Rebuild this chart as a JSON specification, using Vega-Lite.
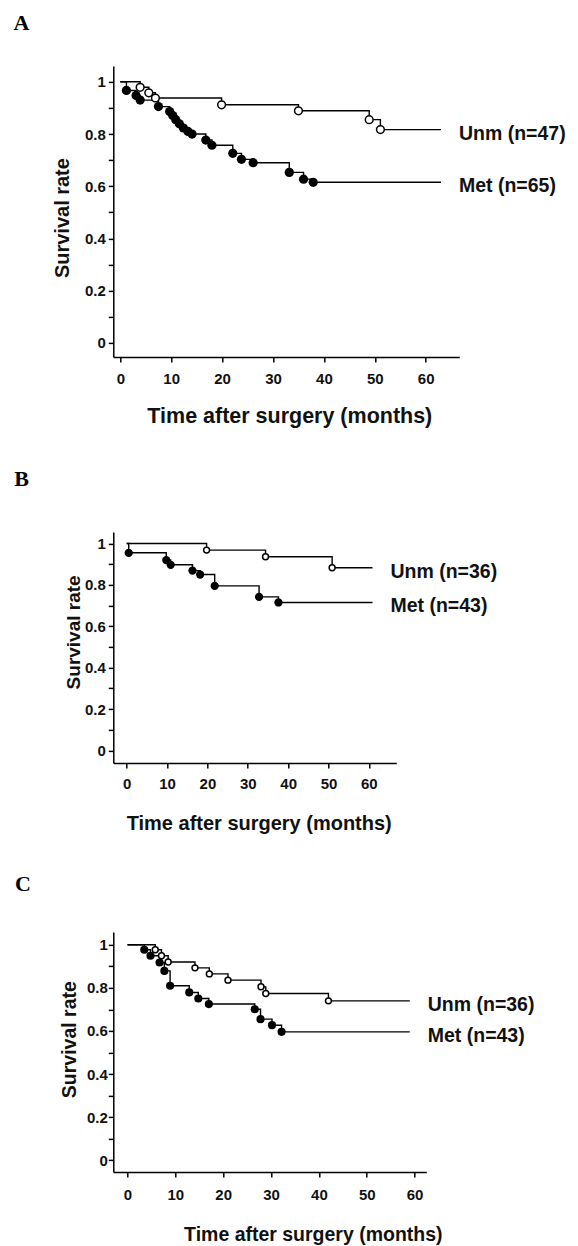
{
  "$schema": "https://vega.github.io/schema/vega-lite/v6.json",
  "background": "white",
  "padding": {"left": 13.3, "top": 10.9, "right": 0, "bottom": 0},
  "spacing": 39,
  "config": {
    "view": {"stroke": null},
    "font": "Liberation Sans",
    "axis": {
      "grid": false,
      "domainColor": "#000",
      "domainWidth": 1.5,
      "tickColor": "#000",
      "tickWidth": 1.5,
      "tickSize": 5,
      "labelFont": "Liberation Sans",
      "labelFontWeight": "bold",
      "labelFontSize": 15,
      "labelColor": "#111",
      "titleFont": "Liberation Sans",
      "titleFontWeight": "bold",
      "titleColor": "#111",
      "labelOverlap": false,
      "labelFlush": false
    }
  },
  "datasets": {
    "A": [
      {"g": "Unm", "t": 0, "s": 1, "ev": false},
      {"g": "Unm", "t": 3.9, "s": 0.979, "ev": true},
      {"g": "Unm", "t": 5.6, "s": 0.958, "ev": true},
      {"g": "Unm", "t": 6.9, "s": 0.938, "ev": true},
      {"g": "Unm", "t": 19.9, "s": 0.912, "ev": true},
      {"g": "Unm", "t": 35.0, "s": 0.889, "ev": true},
      {"g": "Unm", "t": 48.9, "s": 0.855, "ev": true},
      {"g": "Unm", "t": 51.1, "s": 0.817, "ev": true},
      {"g": "Unm", "t": 63, "s": 0.817, "ev": false},
      {"g": "Met", "t": 0, "s": 1, "ev": false},
      {"g": "Met", "t": 1.2, "s": 0.967, "ev": true},
      {"g": "Met", "t": 3.1, "s": 0.948, "ev": true},
      {"g": "Met", "t": 3.9, "s": 0.93, "ev": true},
      {"g": "Met", "t": 7.5, "s": 0.905, "ev": true},
      {"g": "Met", "t": 9.7, "s": 0.886, "ev": true},
      {"g": "Met", "t": 10.3, "s": 0.871, "ev": true},
      {"g": "Met", "t": 10.9, "s": 0.855, "ev": true},
      {"g": "Met", "t": 11.6, "s": 0.839, "ev": true},
      {"g": "Met", "t": 12.4, "s": 0.823, "ev": true},
      {"g": "Met", "t": 13.3, "s": 0.81, "ev": true},
      {"g": "Met", "t": 14.1, "s": 0.8, "ev": true},
      {"g": "Met", "t": 16.8, "s": 0.777, "ev": true},
      {"g": "Met", "t": 18.0, "s": 0.757, "ev": true},
      {"g": "Met", "t": 22.1, "s": 0.726, "ev": true},
      {"g": "Met", "t": 23.8, "s": 0.703, "ev": true},
      {"g": "Met", "t": 26.1, "s": 0.69, "ev": true},
      {"g": "Met", "t": 33.2, "s": 0.653, "ev": true},
      {"g": "Met", "t": 36.0, "s": 0.627, "ev": true},
      {"g": "Met", "t": 37.9, "s": 0.615, "ev": true},
      {"g": "Met", "t": 63, "s": 0.615, "ev": false}
    ],
    "B": [
      {"g": "Unm", "t": 0, "s": 1, "ev": false},
      {"g": "Unm", "t": 19.8, "s": 0.968, "ev": true},
      {"g": "Unm", "t": 34.4, "s": 0.936, "ev": true},
      {"g": "Unm", "t": 50.9, "s": 0.883, "ev": true},
      {"g": "Unm", "t": 60.9, "s": 0.883, "ev": false},
      {"g": "Met", "t": 0, "s": 1, "ev": false},
      {"g": "Met", "t": 0.5, "s": 0.955, "ev": true},
      {"g": "Met", "t": 9.8, "s": 0.92, "ev": true},
      {"g": "Met", "t": 10.9, "s": 0.897, "ev": true},
      {"g": "Met", "t": 16.3, "s": 0.869, "ev": true},
      {"g": "Met", "t": 18.2, "s": 0.85, "ev": true},
      {"g": "Met", "t": 21.8, "s": 0.795, "ev": true},
      {"g": "Met", "t": 32.8, "s": 0.742, "ev": true},
      {"g": "Met", "t": 37.6, "s": 0.715, "ev": true},
      {"g": "Met", "t": 60.9, "s": 0.715, "ev": false}
    ],
    "C": [
      {"g": "Unm", "t": 0, "s": 1, "ev": false},
      {"g": "Unm", "t": 5.8, "s": 0.977, "ev": true},
      {"g": "Unm", "t": 7.1, "s": 0.949, "ev": true},
      {"g": "Unm", "t": 8.5, "s": 0.92, "ev": true},
      {"g": "Unm", "t": 14.1, "s": 0.893, "ev": true},
      {"g": "Unm", "t": 17.1, "s": 0.865, "ev": true},
      {"g": "Unm", "t": 21.0, "s": 0.836, "ev": true},
      {"g": "Unm", "t": 27.9, "s": 0.805, "ev": true},
      {"g": "Unm", "t": 28.9, "s": 0.774, "ev": true},
      {"g": "Unm", "t": 42.0, "s": 0.74, "ev": true},
      {"g": "Unm", "t": 59, "s": 0.74, "ev": false},
      {"g": "Met", "t": 0, "s": 1, "ev": false},
      {"g": "Met", "t": 3.5, "s": 0.977, "ev": true},
      {"g": "Met", "t": 4.8, "s": 0.949, "ev": true},
      {"g": "Met", "t": 6.7, "s": 0.918, "ev": true},
      {"g": "Met", "t": 7.7, "s": 0.879, "ev": true},
      {"g": "Met", "t": 8.9, "s": 0.81, "ev": true},
      {"g": "Met", "t": 12.9, "s": 0.779, "ev": true},
      {"g": "Met", "t": 14.8, "s": 0.751, "ev": true},
      {"g": "Met", "t": 17.0, "s": 0.725, "ev": true},
      {"g": "Met", "t": 26.6, "s": 0.701, "ev": true},
      {"g": "Met", "t": 27.8, "s": 0.655, "ev": true},
      {"g": "Met", "t": 30.2, "s": 0.627, "ev": true},
      {"g": "Met", "t": 32.2, "s": 0.596, "ev": true},
      {"g": "Met", "t": 59, "s": 0.596, "ev": false}
    ]
  },
  "vconcat": [
    {
      "title": {"text": "A", "anchor": "start", "frame": "group", "dx": -99.7, "offset": 14.2, "baseline": "alphabetic", "font": "Liberation Serif", "fontSize": 22, "fontWeight": "bold", "color": "#000"},
      "width": 346,
      "height": 291,
      "encoding": {
        "x": {
          "field": "t", "type": "quantitative",
          "scale": {"domain": [-1.375, 66.6], "nice": false, "zero": false},
          "axis": {"values": [0, 10, 20, 30, 40, 50, 60], "labelBaseline": "middle", "labelPadding": 17, "title": "Time after surgery (months)", "titleFontSize": 21.5, "titleX": 176, "titleY": 66, "titleBaseline": "alphabetic", "titleAlign": "center"}
        },
        "y": {
          "field": "s", "type": "quantitative",
          "scale": {"domain": [-0.054, 1.061], "nice": false, "zero": false},
          "axis": {"values": [0, 0.1, 0.2, 0.3, 0.4, 0.5, 0.6, 0.7, 0.8, 0.9, 1], "labelExpr": "round(datum.value*10) % 2 == 0 ? format(datum.value, '~g') : ''", "labelPadding": 3, "title": "Survival rate", "titleFontSize": 20, "titleAngle": -90, "titleX": -44.8, "titleY": 151.7, "titleBaseline": "alphabetic", "titleAlign": "center"}
        }
      },
      "layer": [
        {"data": {"name": "A"}, "mark": {"type": "line", "interpolate": "step-after", "color": "#000", "strokeWidth": 1.4}, "encoding": {"detail": {"field": "g"}}},
        {"data": {"name": "A"}, "transform": [{"filter": "datum.g === 'Met' && datum.ev"}], "mark": {"type": "point", "shape": "circle", "filled": true, "color": "#000", "opacity": 1, "size": 85}},
        {"data": {"name": "A"}, "transform": [{"filter": "datum.g === 'Unm' && datum.ev"}], "mark": {"type": "point", "shape": "circle", "filled": true, "fill": "#fff", "stroke": "#000", "strokeWidth": 1.5, "opacity": 1, "size": 60}},
        {"data": {"values": [{"label": "Unm (n=47)", "t": 63, "s": 0.817}, {"label": "Met (n=65)", "t": 63, "s": 0.615}]}, "mark": {"type": "text", "align": "left", "baseline": "alphabetic", "dx": 18, "dy": 10, "font": "Liberation Sans", "fontWeight": "bold", "fontSize": 19.5, "color": "#111"}, "encoding": {"text": {"field": "label"}}}
      ]
    },
    {
      "title": {"text": "B", "anchor": "start", "frame": "group", "dx": -99, "offset": 24.2, "baseline": "alphabetic", "font": "Liberation Serif", "fontSize": 22, "fontWeight": "bold", "color": "#000"},
      "width": 283,
      "height": 231,
      "encoding": {
        "x": {
          "field": "t", "type": "quantitative",
          "scale": {"domain": [-3.32, 66.8], "nice": false, "zero": false},
          "axis": {"values": [0, 10, 20, 30, 40, 50, 60], "labelBaseline": "middle", "labelPadding": 15.8, "title": "Time after surgery (months)", "titleFontSize": 20, "titleX": 145.4, "titleY": 66.6, "titleBaseline": "alphabetic", "titleAlign": "center"}
        },
        "y": {
          "field": "s", "type": "quantitative",
          "scale": {"domain": [-0.06, 1.056], "nice": false, "zero": false},
          "axis": {"values": [0, 0.1, 0.2, 0.3, 0.4, 0.5, 0.6, 0.7, 0.8, 0.9, 1], "labelExpr": "round(datum.value*10) % 2 == 0 ? format(datum.value, '~g') : ''", "labelPadding": 3, "title": "Survival rate", "titleFontSize": 19, "titleAngle": -90, "titleX": -33.8, "titleY": 100, "titleBaseline": "alphabetic", "titleAlign": "center"}
        }
      },
      "layer": [
        {"data": {"name": "B"}, "mark": {"type": "line", "interpolate": "step-after", "color": "#000", "strokeWidth": 1.4}, "encoding": {"detail": {"field": "g"}}},
        {"data": {"name": "B"}, "transform": [{"filter": "datum.g === 'Met' && datum.ev"}], "mark": {"type": "point", "shape": "circle", "filled": true, "color": "#000", "opacity": 1, "size": 68}},
        {"data": {"name": "B"}, "transform": [{"filter": "datum.g === 'Unm' && datum.ev"}], "mark": {"type": "point", "shape": "circle", "filled": true, "fill": "#fff", "stroke": "#000", "strokeWidth": 1.5, "opacity": 1, "size": 35}},
        {"data": {"values": [{"label": "Unm (n=36)", "t": 60.9, "s": 0.883}, {"label": "Met (n=43)", "t": 60.9, "s": 0.715}]}, "mark": {"type": "text", "align": "left", "baseline": "alphabetic", "dx": 18, "dy": 10, "font": "Liberation Sans", "fontWeight": "bold", "fontSize": 19.5, "color": "#111"}, "encoding": {"text": {"field": "label"}}}
      ]
    },
    {
      "title": {"text": "C", "anchor": "start", "frame": "group", "dx": -98.3, "offset": 18.5, "baseline": "alphabetic", "font": "Liberation Serif", "fontSize": 22, "fontWeight": "bold", "color": "#000"},
      "width": 313,
      "height": 240,
      "encoding": {
        "x": {
          "field": "t", "type": "quantitative",
          "scale": {"domain": [-2.97, 62.45], "nice": false, "zero": false},
          "axis": {"values": [0, 10, 20, 30, 40, 50, 60], "labelBaseline": "middle", "labelPadding": 17.4, "title": "Time after surgery (months)", "titleFontSize": 19.5, "titleX": 199.5, "titleY": 69, "titleBaseline": "alphabetic", "titleAlign": "center"}
        },
        "y": {
          "field": "s", "type": "quantitative",
          "scale": {"domain": [-0.054, 1.06], "nice": false, "zero": false},
          "axis": {"values": [0, 0.1, 0.2, 0.3, 0.4, 0.5, 0.6, 0.7, 0.8, 0.9, 1], "labelExpr": "round(datum.value*10) % 2 == 0 ? format(datum.value, '~g') : ''", "labelPadding": 1, "title": "Survival rate", "titleFontSize": 19.5, "titleAngle": -90, "titleX": -37.4, "titleY": 107.3, "titleBaseline": "alphabetic", "titleAlign": "center"}
        }
      },
      "layer": [
        {"data": {"name": "C"}, "mark": {"type": "line", "interpolate": "step-after", "color": "#000", "strokeWidth": 1.4}, "encoding": {"detail": {"field": "g"}}},
        {"data": {"name": "C"}, "transform": [{"filter": "datum.g === 'Met' && datum.ev"}], "mark": {"type": "point", "shape": "circle", "filled": true, "color": "#000", "opacity": 1, "size": 66}},
        {"data": {"name": "C"}, "transform": [{"filter": "datum.g === 'Unm' && datum.ev"}], "mark": {"type": "point", "shape": "circle", "filled": true, "fill": "#fff", "stroke": "#000", "strokeWidth": 1.5, "opacity": 1, "size": 35}},
        {"data": {"values": [{"label": "Unm (n=36)", "t": 59, "s": 0.74}, {"label": "Met (n=43)", "t": 59, "s": 0.596}]}, "mark": {"type": "text", "align": "left", "baseline": "alphabetic", "dx": 18, "dy": 10, "font": "Liberation Sans", "fontWeight": "bold", "fontSize": 19.5, "color": "#111"}, "encoding": {"text": {"field": "label"}}}
      ]
    }
  ]
}
